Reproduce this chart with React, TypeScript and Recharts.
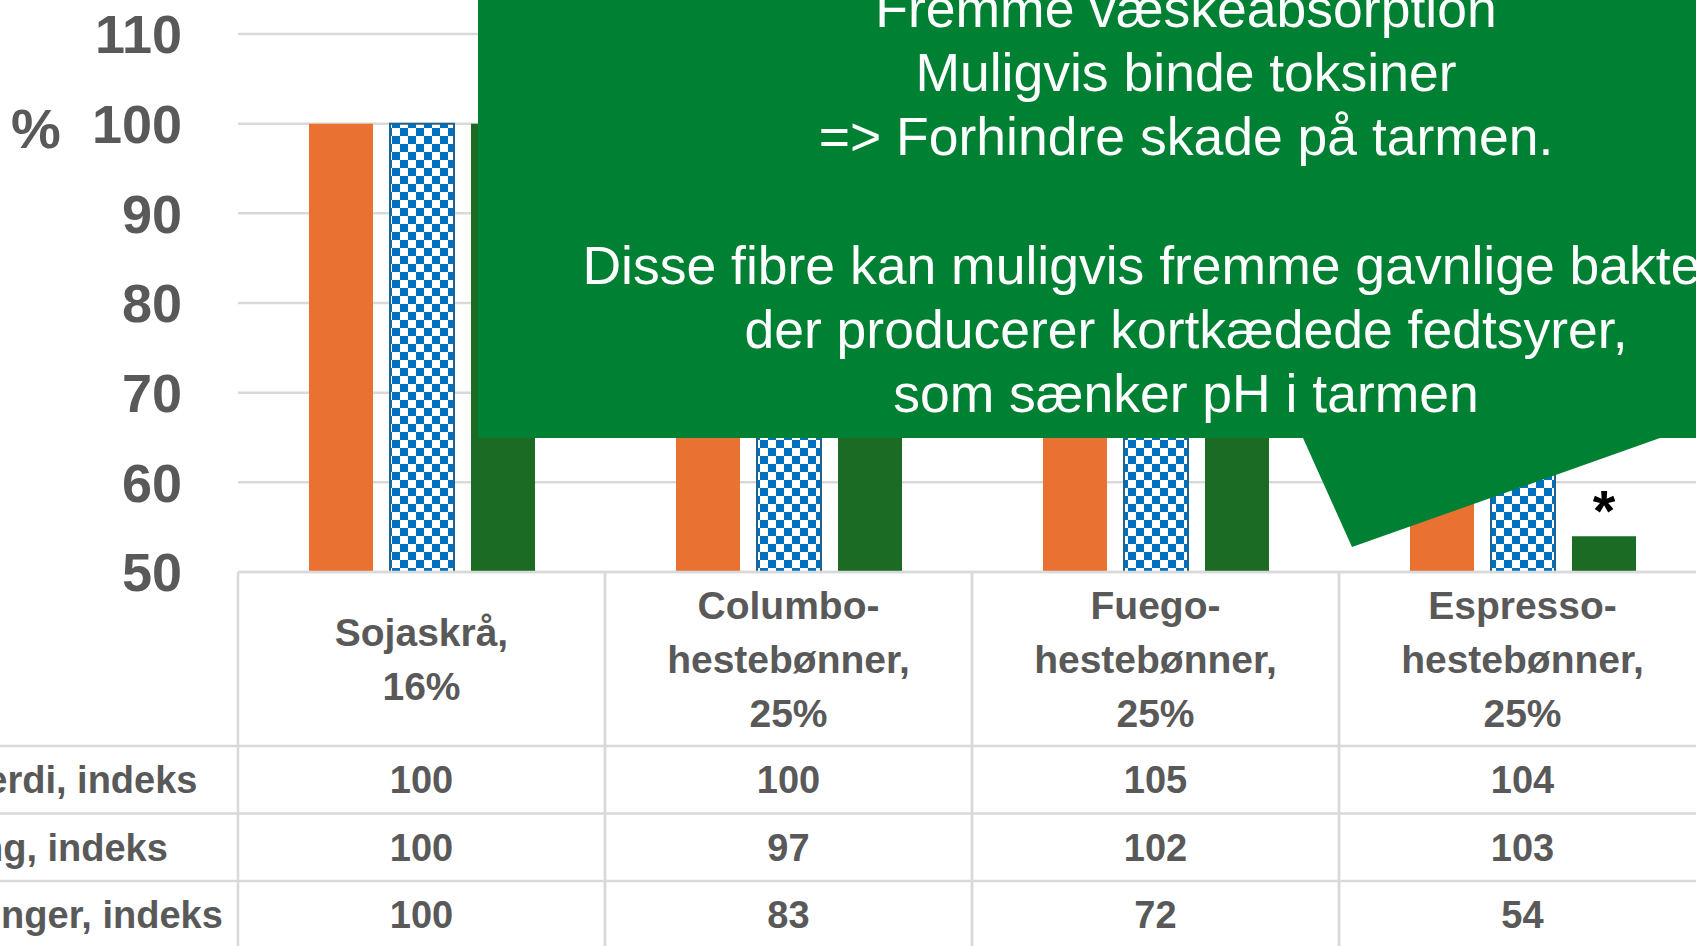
import { Bar, BarChart, CartesianGrid, LabelList, XAxis, YAxis } from "recharts";

const categories = ["Sojaskrå, 16%", "Columbo-hestebønner, 25%", "Fuego-hestebønner, 25%", "Espresso-hestebønner, 25%"];
const seriesNames = ["Produksjonsverdi, indeks", "Fôrkonvertering, indeks", "Diarrébehandlinger, indeks"];
const produksjonsverdi = [100, 100, 105, 104];
const forkonvertering = [100, 97, 102, 103];
const diarre = [100, 83, 72, 54];
const significance = ["", "", "", "*"];
const yTicks = [50, 60, 70, 80, 90, 100, 110];
const calloutLines = [
  "Fremme væskeabsorption",
  "Muligvis binde toksiner",
  "=> Forhindre skade på tarmen.",
  "",
  "Disse fibre kan muligvis fremme gavnlige bakterier,",
  "der producerer kortkædede fedtsyrer,",
  "som sænker pH i tarmen",
];

const seriesValues = [produksjonsverdi, forkonvertering, diarre];
const data = categories.map((name, i) => ({
  name,
  s1: produksjonsverdi[i],
  s2: forkonvertering[i],
  s3: diarre[i],
  sig: significance[i],
}));

// layout
const W = 1696;
const H = 946;
const Y_AXIS_W = 238;
const BAND = 367;
const CHART_W = Y_AXIS_W + BAND * categories.length + 14;
const TOP = 34;
const PLOT_H = 538;
const TABLE_H = 380;
const HEADER_H = 174;
const ROW_H = 67.5;
const LABEL_X = -265;

const GRID = "#d9d9d9";
const TEXT = "#595959";
const FONT = "'Liberation Sans', Arial, sans-serif";

function splitLabel(s: string) {
  return s.replace("-", "-\n").replace(", ", ",\n").split("\n");
}

function TableTick(props: any) {
  const { x, y, payload, index } = props;
  const left = x - BAND / 2;
  const right = x + BAND / 2;
  const lines = splitLabel(String(payload.value));
  const mid = y + HEADER_H / 2;
  const rowLines = seriesValues.map((_, r) => y + HEADER_H + ROW_H * r);
  const textStyle = { fontFamily: FONT, fontWeight: 700, fontSize: 38, fill: TEXT };
  const headStyle = { ...textStyle, fontSize: 39 };
  return (
    <g>
      <line x1={left} x2={left} y1={y} y2={y + TABLE_H} stroke={GRID} strokeWidth={2.5} />
      <line x1={right} x2={right} y1={y} y2={y + TABLE_H} stroke={GRID} strokeWidth={2.5} />
      {rowLines.map((ly, r) => (
        <line key={r} x1={index === 0 ? -20 : left} x2={right} y1={ly} y2={ly} stroke={GRID} strokeWidth={2.5} />
      ))}
      {lines.map((t, i) => (
        <text key={i} x={x} y={mid + (i - (lines.length - 1) / 2) * 54} dy="0.355em" textAnchor="middle" style={headStyle}>
          {t}
        </text>
      ))}
      {seriesValues.map((vals, r) => (
        <text key={r} x={x} y={y + HEADER_H + ROW_H * (r + 0.5)} dy="0.355em" textAnchor="middle" style={textStyle}>
          {vals[index]}
        </text>
      ))}
      {index === 0 &&
        seriesNames.map((n, r) => (
          <text key={n} x={LABEL_X} y={y + HEADER_H + ROW_H * (r + 0.5)} dy="0.355em" textAnchor="start" style={textStyle}>
            {n}
          </text>
        ))}
    </g>
  );
}

function StarLabel(props: any) {
  const { x, y, width, value } = props;
  if (!value) return null;
  return (
    <text x={x + width / 2} y={y - 5} textAnchor="middle" style={{ fontFamily: FONT, fontWeight: 700, fontSize: 58, fill: "#000" }}>
      {value}
    </text>
  );
}

export default function App() {
  return (
    <div style={{ position: "fixed", left: 0, top: 0, width: W, height: H, overflow: "hidden", background: "#fff" }}>
      <BarChart
        width={CHART_W}
        height={TOP + PLOT_H + TABLE_H}
        data={data}
        margin={{ top: TOP, right: 14, left: 0, bottom: 0 }}
        barSize={64}
        barGap={17}
      >
        <defs>
          <pattern id="checker" patternUnits="userSpaceOnUse" width={16} height={16}>
            <rect width={16} height={16} fill="#fff" />
            <rect width={8} height={8} fill="#0070C0" />
            <rect x={8} y={8} width={8} height={8} fill="#0070C0" />
          </pattern>
        </defs>
        <CartesianGrid vertical={false} stroke={GRID} strokeWidth={2.5} />
        <XAxis
          dataKey="name"
          interval={0}
          height={TABLE_H}
          tickLine={false}
          tickSize={0}
          tickMargin={0}
          axisLine={{ stroke: GRID, strokeWidth: 2.5 }}
          tick={(p: any) => <TableTick {...p} />}
        />
        <YAxis
          domain={[50, 110]}
          ticks={yTicks}
          interval={0}
          width={Y_AXIS_W}
          axisLine={false}
          tickLine={false}
          tickSize={0}
          tickMargin={56}
          tick={{ fontFamily: FONT, fontWeight: 700, fontSize: 54, fill: TEXT }}
        />
        <Bar dataKey="s1" name={seriesNames[0]} fill="#E97132" isAnimationActive={false} />
        <Bar dataKey="s2" name={seriesNames[1]} fill="url(#checker)" stroke="#1F6391" strokeWidth={2} isAnimationActive={false} />
        <Bar dataKey="s3" name={seriesNames[2]} fill="#1B6B24" isAnimationActive={false}>
          <LabelList dataKey="sig" content={<StarLabel />} />
        </Bar>
      </BarChart>
      <svg width={W} height={H} style={{ position: "absolute", left: 0, top: 0, pointerEvents: "none" }}>
        <text x={36} y={148} textAnchor="middle" style={{ fontFamily: FONT, fontWeight: 700, fontSize: 56, fill: TEXT }}>
          %
        </text>
        <polygon points="478,-20 1720,-20 1720,438 1660,438 1352,547 1303,438 478,438" fill="#008033" />
        {calloutLines.map((t, i) => (
          <text key={i} x={1186} y={27 + i * 64.2} textAnchor="middle" style={{ fontFamily: FONT, fontSize: 53.5, fill: "#fff" }}>
            {t}
          </text>
        ))}
      </svg>
    </div>
  );
}
